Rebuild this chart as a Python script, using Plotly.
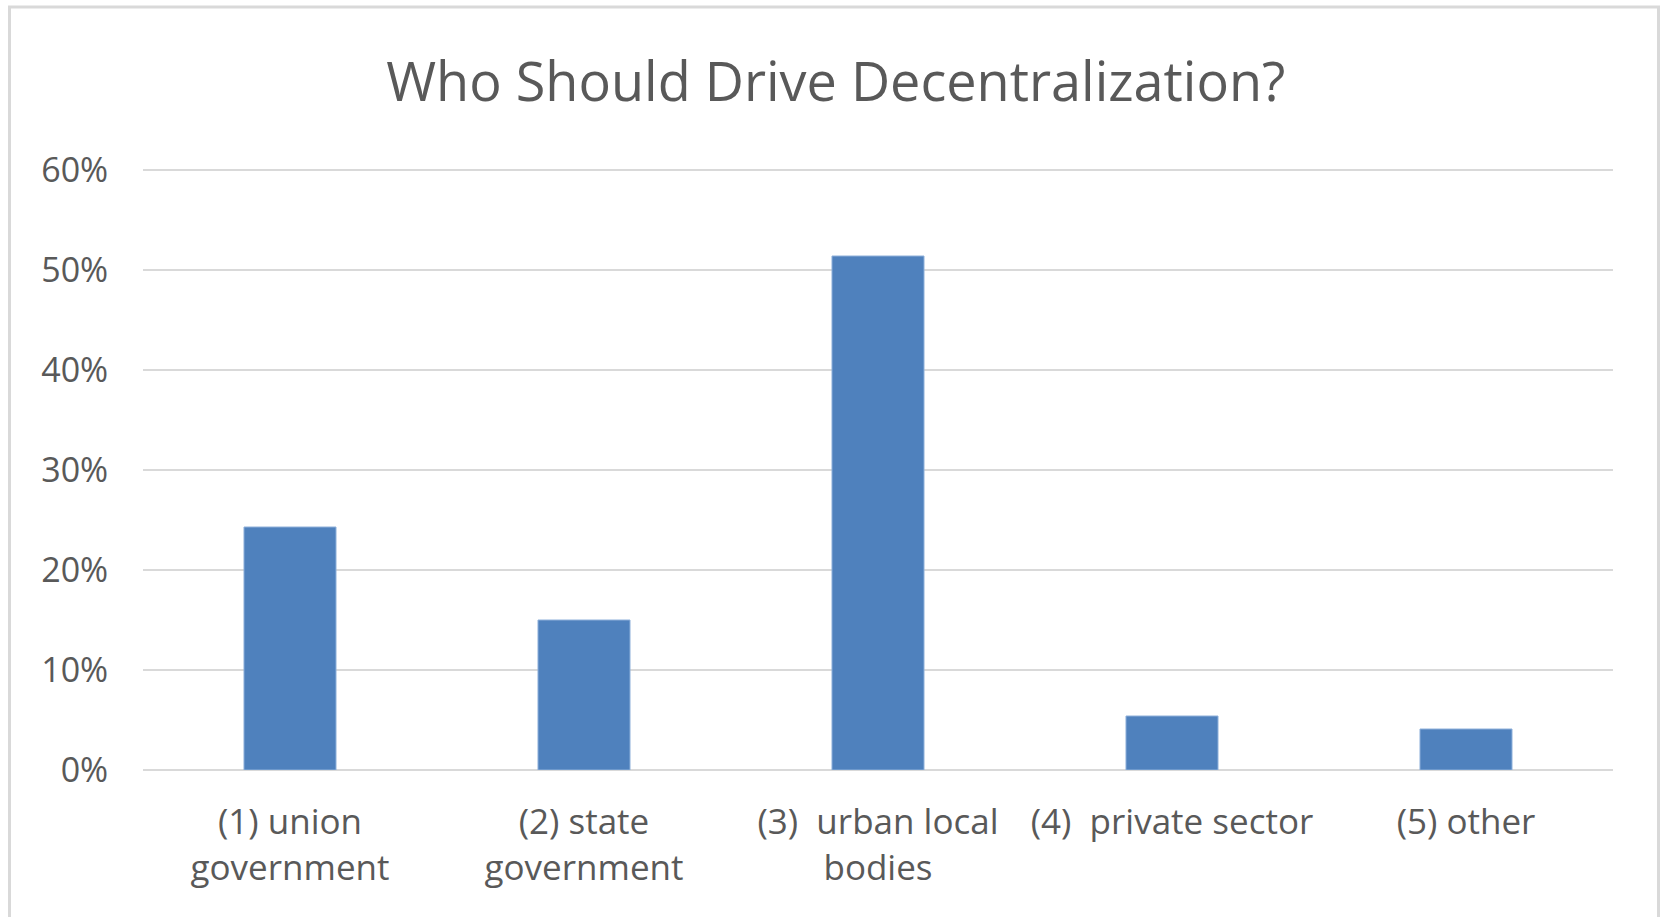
import plotly.graph_objects as go

# Survey responses: who should drive decentralization
categories = [
    "(1) union<br>government",
    "(2) state<br>government",
    "(3)  urban local<br>bodies",
    "(4)  private sector",
    "(5) other",
]
shares = [0.243, 0.150, 0.514, 0.054, 0.041]
tick_values = [0, 0.1, 0.2, 0.3, 0.4, 0.5, 0.6]
tick_labels = ["0%", "10%", "20%", "30%", "40%", "50%", "60%"]

W, H = 1660, 917
Y_MAX = 0.605
L, R, T, B = 143, 47, 165, 147
plot_w = W - L - R
plot_h = H - T - B


def px_to_paper_x(px):
    return (px - L) / plot_w


def px_to_paper_y(py):
    return (H - B - py) / plot_h


TEXT = "#595959"
FONT = "Open Sans"

fig = go.Figure(
    go.Bar(
        x=categories,
        y=shares,
        marker=dict(color="#4f81bd", line=dict(color="#8fb0da", width=1)),
        width=0.313,
        hoverinfo="x+y",
    )
)

fig.update_layout(
    width=W,
    height=H,
    margin=dict(l=L, r=R, t=T, b=B),
    paper_bgcolor="white",
    plot_bgcolor="white",
    showlegend=False,
    title=dict(
        text="Who Should Drive Decentralization?",
        x=0.5035,
        xanchor="center",
        xref="container",
        y=1 - 82 / H,
        yanchor="middle",
        yref="container",
        font=dict(family=FONT, size=54, color=TEXT),
    ),
    xaxis=dict(
        type="category",
        range=[-0.5, 4.5],
        showgrid=False,
        showline=False,
        zeroline=False,
        ticks="outside",
        ticklen=21,
        tickcolor="rgba(0,0,0,0)",
        tickfont=dict(family=FONT, size=35, color=TEXT),
    ),
    yaxis=dict(
        range=[0, Y_MAX],
        tickvals=tick_values,
        ticktext=tick_labels,
        showgrid=True,
        gridcolor="#d9d9d9",
        gridwidth=2,
        zeroline=True,
        zerolinecolor="#d9d9d9",
        zerolinewidth=2,
        showline=False,
        ticks="outside",
        ticklen=27,
        tickcolor="rgba(0,0,0,0)",
        tickfont=dict(family=FONT, size=34, color=TEXT),
    ),
    shapes=[
        dict(
            type="rect",
            xref="paper",
            yref="paper",
            x0=px_to_paper_x(9.5),
            x1=px_to_paper_x(1658.5),
            y0=px_to_paper_y(940),
            y1=px_to_paper_y(7),
            line=dict(color="#d9d9d9", width=3),
            fillcolor="rgba(0,0,0,0)",
            layer="below",
        )
    ],
)

fig.write_html("out.html")
